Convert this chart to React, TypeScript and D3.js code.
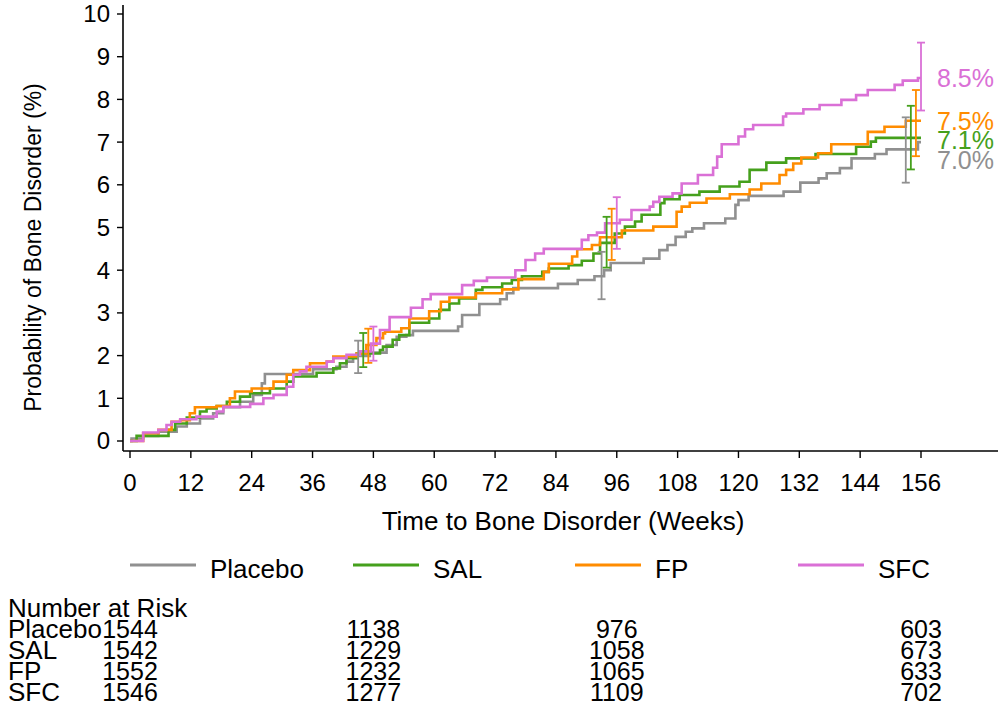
import React from "react";
import * as d3 from "d3";

// Kaplan–Meier style cumulative incidence, [week, percent] at each step
const placeboSteps: [number, number][] = [
  [0, 0], [0.3, 0.06], [2.6, 0.12], [5.6, 0.22], [9.2, 0.34], [11.2, 0.41], [13.8, 0.53],
  [16.4, 0.65], [18.4, 0.79], [21.7, 0.92], [24.3, 1.08], [26, 1.35], [26.6, 1.57],
  [36.1, 1.68], [40.7, 1.74], [42.7, 1.86], [44, 1.99], [47.3, 2.07], [50.6, 2.25],
  [52.6, 2.44], [54.5, 2.48], [55.8, 2.58], [64.7, 2.68], [65.5, 2.95], [68.9, 3.21],
  [73, 3.32], [74.3, 3.46], [75.6, 3.58], [84.4, 3.68], [88.3, 3.77], [91.6, 3.86],
  [93.5, 4.0], [94.8, 4.17], [101.3, 4.27], [104.4, 4.47], [106, 4.59], [107.6, 4.78],
  [109.6, 4.9], [110.9, 4.98], [113.2, 5.1], [117.4, 5.21], [119.4, 5.53], [120, 5.64],
  [122, 5.74], [128.9, 5.84], [132.2, 6.05], [135.8, 6.15], [137.4, 6.27], [140, 6.39],
  [142.3, 6.62], [146.9, 6.72], [149.2, 6.83], [155.4, 7.0], [156, 7.0],
];
const salSteps: [number, number][] = [
  [0, 0], [1.3, 0.12], [7.6, 0.26], [8.9, 0.41], [11.2, 0.55], [13.8, 0.69], [15.1, 0.76],
  [17.1, 0.82], [19.1, 0.92], [21.7, 1.04], [23.7, 1.12], [27.6, 1.23], [30.9, 1.39],
  [32.2, 1.51], [36.8, 1.6], [40.1, 1.7], [41.4, 1.82], [42.7, 1.94], [44.7, 2.05],
  [49.3, 2.13], [49.9, 2.21], [51.8, 2.37], [53.1, 2.48], [55.1, 2.77], [59, 2.87],
  [61, 3.07], [63, 3.22], [64.9, 3.34], [68.2, 3.54], [69.5, 3.6], [73.4, 3.69],
  [75.3, 3.77], [77.3, 3.86], [81.3, 3.96], [82.6, 4.04], [86.5, 4.12], [89.1, 4.22],
  [91.4, 4.39], [92.7, 4.64], [95.6, 4.86], [97.6, 5.02], [99.6, 5.14], [100.9, 5.3],
  [104.6, 5.57], [105.4, 5.66], [108.4, 5.76], [112.3, 5.84], [116.3, 5.96], [120.2, 6.07],
  [122.2, 6.35], [125.5, 6.52], [129.4, 6.62], [135.2, 6.72], [143.2, 6.89], [146.1, 7.01],
  [147.1, 7.1], [156, 7.1],
];
const fpSteps: [number, number][] = [
  [0, 0], [2.6, 0.18], [5.6, 0.26], [8.2, 0.45], [9.9, 0.49], [11.8, 0.65], [12.8, 0.79],
  [17.1, 0.82], [19.7, 1.0], [20.7, 1.16], [24, 1.23], [28.3, 1.39], [30.9, 1.55],
  [32.2, 1.66], [35.5, 1.82], [38.8, 1.86], [40.1, 1.98], [44.7, 2.05], [46.6, 2.25],
  [48.6, 2.41], [49.9, 2.52], [50.3, 2.56], [53.5, 2.64], [55.1, 2.87], [59, 3.04],
  [61.3, 3.26], [63, 3.36], [68.2, 3.46], [73.4, 3.55], [76.6, 3.79], [81.6, 3.96],
  [82.6, 4.15], [87.2, 4.32], [88.2, 4.49], [91.1, 4.59], [92.7, 4.77], [97, 4.93],
  [103.2, 5.02], [107.8, 5.37], [108.8, 5.49], [110.4, 5.58], [113.7, 5.68], [118.3, 5.78],
  [122.2, 5.89], [124.5, 6.03], [128.1, 6.23], [129.4, 6.35], [130.8, 6.5], [132.4, 6.64],
  [135.7, 6.74], [138.3, 6.95], [145.5, 7.24], [148.8, 7.36], [153, 7.5], [156, 7.5],
];
const sfcSteps: [number, number][] = [
  [0, 0], [2.6, 0.2], [5.6, 0.26], [7.2, 0.375], [8.2, 0.45], [9.9, 0.51], [13.1, 0.57],
  [17.1, 0.69], [18.4, 0.8], [23.7, 0.87], [26.3, 1.0], [28.3, 1.08], [30.9, 1.27],
  [32.2, 1.55], [33.5, 1.63], [34.8, 1.74], [38.8, 1.86], [40.1, 1.94], [42.7, 2.02],
  [45.3, 2.1], [47.5, 2.28], [49.3, 2.6], [51.2, 2.9], [55.4, 3.12], [57.7, 3.32],
  [59.3, 3.44], [65.5, 3.65], [67.8, 3.75], [70.4, 3.83], [76, 4.0], [78, 4.24],
  [79.9, 4.39], [81.6, 4.5], [89.1, 4.71], [90.4, 4.82], [92.1, 4.88], [93.7, 5.1],
  [96.6, 5.18], [98.9, 5.41], [102.5, 5.49], [103.2, 5.6], [104.4, 5.72], [107, 5.8],
  [108.8, 6.03], [112, 6.23], [115, 6.4], [115.8, 6.66], [116.7, 6.95], [120, 7.13],
  [121.3, 7.3], [122.9, 7.4], [128.8, 7.6], [129.4, 7.67], [132.8, 7.77], [136, 7.87],
  [140.3, 7.99], [143.2, 8.1], [145.5, 8.22], [150.8, 8.34], [152.4, 8.44], [155.4, 8.5],
  [156, 8.5],
];

// 95% confidence limits at weeks 48, 96 and 156
const ciWeeks = [48, 96, 156];
const placeboLo = [1.59, 3.32, 6.05];
const placeboHi = [2.35, 4.43, 7.58];
const salLo = [1.73, 4.06, 6.36];
const salHi = [2.53, 5.25, 7.85];
const fpLo = [1.83, 4.24, 6.67];
const fpHi = [2.63, 5.44, 8.22];
const sfcLo = [1.88, 4.5, 7.74];
const sfcHi = [2.68, 5.71, 9.33];

const groups = ["Placebo", "SAL", "FP", "SFC"];
const colors = ["#909090", "#45a01c", "#ff8c00", "#da70d6"];

const xTicks = [0, 12, 24, 36, 48, 60, 72, 84, 96, 108, 120, 132, 144, 156];
const yTicks = [0, 1, 2, 3, 4, 5, 6, 7, 8, 9, 10];

// Number at risk
const riskWeeks = [0, 48, 96, 156];
const placeboRisk = [1544, 1138, 976, 603];
const salRisk = [1542, 1229, 1058, 673];
const fpRisk = [1552, 1232, 1065, 633];
const sfcRisk = [1546, 1277, 1109, 702];

const steps = [placeboSteps, salSteps, fpSteps, sfcSteps];
const ciLo = [placeboLo, salLo, fpLo, sfcLo];
const ciHi = [placeboHi, salHi, fpHi, sfcHi];
const risk = [placeboRisk, salRisk, fpRisk, sfcRisk];

const W = 998;
const H = 709;
const FONT = "'Liberation Sans', Arial, Helvetica, sans-serif";

export default function App() {
  const x = d3.scaleLinear().domain([0, 156]).range([130, 921]);
  const y = d3.scaleLinear().domain([0, 10]).range([441, 14]);
  const axisX0 = 123;
  const axisY0 = 451;

  const line = d3
    .line<[number, number]>()
    .x((d) => x(d[0]))
    .y((d) => y(d[1]))
    .curve(d3.curveStepAfter);

  // End-of-curve labels, pushed apart so they don't overlap
  const finals = steps.map((s) => s[s.length - 1][1]);
  const order = d3.range(4).sort((a, b) => finals[b] - finals[a]);
  const labelY: number[] = [];
  let prev = -Infinity;
  order.forEach((i) => {
    const yy = Math.max(y(finals[i]), prev + 19.5);
    labelY[i] = yy;
    prev = yy;
  });

  const legendX = [130, 353, 575, 798];
  const riskRowY = [638, 659, 680, 701];

  return (
    <svg
      width={W}
      height={H}
      style={{ position: "absolute", left: 0, top: 0, background: "#fff" }}
      fontFamily={FONT}
    >
      <rect width={W} height={H} fill="#fff" />

      {/* y axis */}
      <line x1={axisX0} x2={axisX0} y1={5} y2={axisY0} stroke="#000" strokeWidth={1.6} />
      {yTicks.map((t) => (
        <g key={"y" + t}>
          <line x1={axisX0 - 6} x2={axisX0} y1={y(t)} y2={y(t)} stroke="#000" strokeWidth={1.4} />
          <text x={110} y={y(t)} dy="0.35em" textAnchor="end" fontSize={24}>
            {t}
          </text>
        </g>
      ))}
      <text
        transform={`translate(33,${(14 + 441) / 2 + 20}) rotate(-90)`}
        textAnchor="middle"
        dy="0.35em"
        fontSize={23}
      >
        Probability of Bone Disorder (%)
      </text>

      {/* x axis */}
      <line x1={axisX0} x2={W} y1={axisY0} y2={axisY0} stroke="#000" strokeWidth={1.6} />
      {xTicks.map((t) => (
        <g key={"x" + t}>
          <line x1={x(t)} x2={x(t)} y1={axisY0} y2={axisY0 + 7} stroke="#000" strokeWidth={1.4} />
          <text x={x(t)} y={491} textAnchor="middle" fontSize={24}>
            {t}
          </text>
        </g>
      ))}
      <text x={563} y={530} textAnchor="middle" fontSize={26}>
        Time to Bone Disorder (Weeks)
      </text>

      {/* curves */}
      {steps.map((s, i) => (
        <path key={"c" + i} d={line(s) || ""} fill="none" stroke={colors[i]} strokeWidth={2.6} />
      ))}

      {/* confidence intervals */}
      {steps.map((_, i) =>
        ciWeeks.map((w, j) => {
          const cx = x(w - (3 - i));
          return (
            <g key={`ci${i}-${j}`} stroke={colors[i]} strokeWidth={1.8}>
              <line x1={cx} x2={cx} y1={y(ciLo[i][j])} y2={y(ciHi[i][j])} />
              <line x1={cx - 4} x2={cx + 4} y1={y(ciLo[i][j])} y2={y(ciLo[i][j])} />
              <line x1={cx - 4} x2={cx + 4} y1={y(ciHi[i][j])} y2={y(ciHi[i][j])} />
            </g>
          );
        })
      )}

      {/* final percentages */}
      {finals.map((v, i) => (
        <text key={"f" + i} x={937} y={labelY[i]} dy="0.35em" fontSize={25} fill={colors[i]}>
          {v.toFixed(1)}%
        </text>
      ))}

      {/* legend */}
      {groups.map((g, i) => (
        <g key={"l" + g}>
          <line
            x1={legendX[i]}
            x2={legendX[i] + 66}
            y1={565}
            y2={565}
            stroke={colors[i]}
            strokeWidth={3}
          />
          <text x={legendX[i] + 80} y={578} fontSize={26}>
            {g}
          </text>
        </g>
      ))}

      {/* number at risk table */}
      <text x={8} y={617} fontSize={26}>
        Number at Risk
      </text>
      {groups.map((g, i) => (
        <g key={"r" + g}>
          <text x={8} y={riskRowY[i]} fontSize={26}>
            {g}
          </text>
          {risk[i].map((n, j) => (
            <text key={j} x={x(riskWeeks[j])} y={riskRowY[i]} textAnchor="middle" fontSize={25}>
              {n}
            </text>
          ))}
        </g>
      ))}
    </svg>
  );
}
